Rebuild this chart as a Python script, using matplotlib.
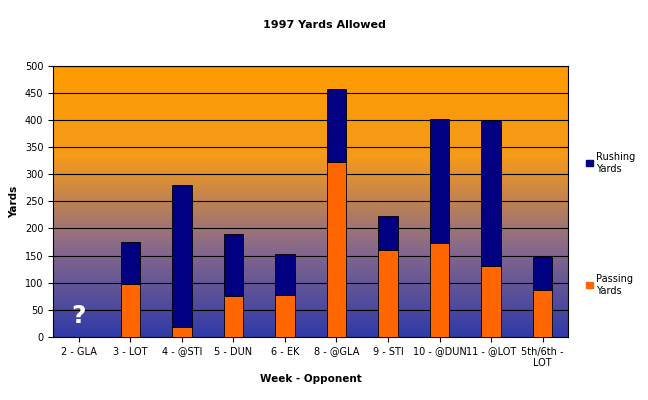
import matplotlib
matplotlib.use("Agg")
import matplotlib.pyplot as plt
import numpy as np
from matplotlib.colors import LinearSegmentedColormap

categories = ["2 - GLA", "3 - LOT", "4 - @STI", "5 - DUN", "6 - EK", "8 - @GLA",
              "9 - STI", "10 - @DUN", "11 - @LOT", "5th/6th -\nLOT"]
passing = [0, 97, 18, 75, 78, 322, 160, 173, 130, 86]
totals = [0, 175, 280, 190, 153, 457, 223, 403, 398, 148]
rushing = [t - p for t, p in zip(totals, passing)]
yticks = list(range(0, 501, 50))

fig = plt.figure(figsize=(6.48, 4.0), dpi=100)
ax = fig.add_axes([0.082, 0.158, 0.795, 0.677])
cmap = LinearSegmentedColormap.from_list("bg", ["#2f3aa8", "#8a6a8a", "#f59a1a", "#ff9c00"])
grad = np.linspace(0, 1, 256).reshape(-1, 1)
ax.imshow(grad, aspect="auto", cmap=cmap, origin="lower",
          extent=[-0.5, len(categories) - 0.5, 0, 500], zorder=0)
x = np.arange(len(categories))
ax.bar(x, passing, width=0.38, color="#ff6600", edgecolor="black", linewidth=0.6, zorder=3, label="Passing\nYards")
ax.bar(x, rushing, bottom=passing, width=0.38, color="#000080", edgecolor="black", linewidth=0.6, zorder=3, label="Rushing\nYards")
ax.set_xlim(-0.5, len(categories) - 0.5)
ax.set_ylim(0, 500)
ax.set_yticks(yticks)
ax.yaxis.grid(True, color="black", linewidth=0.8, zorder=1)
ax.set_xticks(x)
ax.set_xticklabels(categories, fontsize=7)
ax.tick_params(axis="y", labelsize=7)
ax.set_xlabel("Week - Opponent", fontsize=7.5, fontweight="bold")
ax.set_ylabel("Yards", fontsize=7.5, fontweight="bold")
fig.suptitle("1997 Yards Allowed", fontsize=8, fontweight="bold", y=0.95)
ax.text(0, 25, "?", color="white", fontsize=18, ha="center", fontweight="bold", zorder=4)
fig.patches.append(plt.Rectangle((0.905, 0.585), 0.01, 0.016, transform=fig.transFigure, color="#000080"))
fig.text(0.92, 0.593, "Rushing\nYards", fontsize=7, va="center")
fig.patches.append(plt.Rectangle((0.905, 0.28), 0.01, 0.016, transform=fig.transFigure, color="#ff6600"))
fig.text(0.92, 0.288, "Passing\nYards", fontsize=7, va="center")
fig.savefig("out.png", dpi=100)
